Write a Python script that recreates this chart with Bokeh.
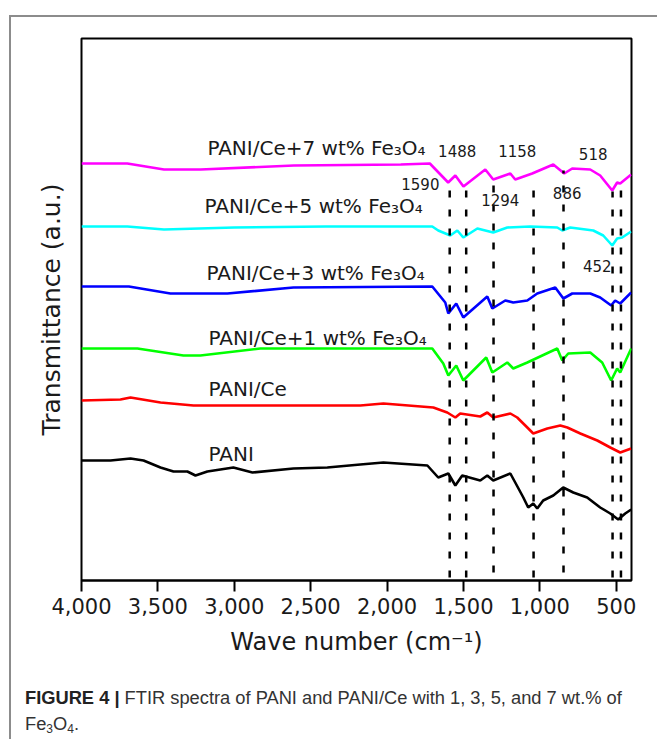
from bokeh.plotting import figure
from bokeh.layouts import column
from bokeh.models import Range1d, FixedTicker, NumeralTickFormatter, LinearAxis, Div
from bokeh.core.properties import value
from bokeh.embed import file_html
from bokeh.resources import INLINE

# ---------------- data (wave number cm^-1, transmittance a.u.) ----------------
pani_wn = [4000, 3810, 3679, 3594, 3483, 3398, 3307, 3254, 3176, 3006, 2881, 2613, 2391,
           2175, 2024, 1736, 1665, 1599, 1553, 1508, 1390, 1344, 1305, 1193, 1161, 1108,
           1076, 1043, 1017, 978, 912, 847, 781, 690, 605, 539, 487, 441, 402]
pani_t = [120, 120, 122, 120, 113, 109, 109, 105, 109, 113, 108, 112, 113,
          116, 118, 115, 103, 107, 95, 105, 100, 105, 100, 107, 98, 83,
          73, 77, 72, 80, 85, 93, 88, 83, 73, 67, 61, 67, 71]

ce_wn = [4000, 3745, 3679, 3483, 3267, 2894, 2175, 2024, 1697, 1606, 1553, 1521, 1390,
         1344, 1305, 1193, 1148, 1082, 1043, 951, 866, 820, 735, 624, 539, 474, 402]
ce_t = [180, 181, 183, 178, 175, 175, 175, 177, 173, 168, 163, 167, 164,
        168, 163, 167, 163, 153, 147, 152, 155, 153, 147, 140, 133, 128, 132]

fe1_wn = [4000, 3634, 3333, 3222, 2829, 1704, 1632, 1599, 1547, 1501, 1351, 1311, 1213,
          1174, 1082, 886, 853, 814, 670, 592, 533, 494, 474, 402]
fe1_t = [232, 232, 225, 225, 232, 232, 217, 205, 215, 200, 223, 208, 218,
         212, 218, 232, 220, 227, 228, 218, 200, 212, 208, 232]

fe3_wn = [4000, 3690, 3418, 3176, 3045, 2613, 1704, 1619, 1599, 1547, 1501, 1344, 1311,
          1226, 1174, 1082, 1017, 899, 846, 788, 670, 605, 533, 507, 474, 402]
fe3_t = [294, 294, 287, 287, 287, 293, 294, 278, 267, 277, 263, 284, 272,
         280, 278, 280, 287, 293, 282, 287, 287, 283, 275, 280, 277, 288]

fe5_wn = [4000, 3700, 3460, 3000, 2400, 1704, 1665, 1586, 1540, 1501, 1409, 1305, 1213,
          1063, 886, 853, 801, 650, 585, 526, 494, 461, 402]
fe5_t = [354, 354, 351, 353, 354, 354, 350, 345, 350, 343, 352, 348, 353,
         354, 353, 350, 353, 350, 345, 335, 342, 343, 349]

fe7_wn = [4000, 3700, 3460, 3220, 2610, 1910, 1720, 1600, 1553, 1500, 1357, 1305, 1193,
          1161, 1050, 912, 840, 788, 670, 605, 526, 494, 474, 402]
fe7_t = [417, 417, 411, 411, 415, 416, 417, 398, 405, 394, 411, 401, 407,
         401, 407, 416, 407, 412, 411, 405, 390, 398, 397, 406]

series_names = ["PANI", "PANI/Ce", "PANI/Ce+1 wt% Fe\u2083O\u2084", "PANI/Ce+3 wt% Fe\u2083O\u2084",
                "PANI/Ce+5 wt% Fe\u2083O\u2084", "PANI/Ce+7 wt% Fe\u2083O\u2084"]
series_colors = ["#000000", "#ff0000", "#00ff00", "#0000ff", "#00ffff", "#ff00ff"]
series_wn = [pani_wn, ce_wn, fe1_wn, fe3_wn, fe5_wn, fe7_wn]
series_t = [pani_t, ce_t, fe1_t, fe3_t, fe5_t, fe7_t]
name_wn = [3169, 3169, 3169, 3182, 3195, 3176]
name_t = [127, 192, 243, 308, 375, 433]

# marked bands (dashed guide lines) and their labels
band_wn = [1590, 1482, 1303, 1041, 845, 524, 469]
band_top = [398, 398, 403, 401, 410, 389, 398]
band_bottom = [3, 3, 8, 3, 8, 3, 3]
peak_labels = ["1488", "1158", "518", "1590", "1294", "886", "452"]
peak_label_wn = [1541, 1148, 651, 1782, 1259, 821, 624]
peak_label_t = [430, 430, 427, 397, 381, 388, 315]

x_ticks = [4000, 3500, 3000, 2500, 2000, 1500, 1000, 500]

caption_bold = "FIGURE 4 |"
caption_text = "FTIR spectra of PANI and PANI/Ce with 1, 3, 5, and 7 wt.% of"

FONT = "DejaVu Sans"
TXT = "#1a1a1a"

p = figure(width=646, height=653, x_range=Range1d(4000, 400), y_range=Range1d(0, 542),
           output_backend="svg", toolbar_location=None, y_axis_location=None,
           min_border_left=70, min_border_right=26, min_border_top=21, min_border_bottom=90)
p.grid.visible = False
p.outline_line_color = "black"
p.outline_line_width = 2
p.background_fill_color = "white"
p.border_fill_color = "white"

ax = p.xaxis[0]
ax.ticker = FixedTicker(ticks=x_ticks)
ax.formatter = NumeralTickFormatter(format="0,0")
ax.major_label_text_font = FONT
ax.major_label_text_font_size = "21px"
ax.major_label_text_color = TXT
ax.major_label_standoff = 6
ax.major_tick_out = 11
ax.major_tick_in = 0
ax.minor_tick_out = 0
ax.minor_tick_in = 0
ax.axis_line_width = 2
ax.major_tick_line_width = 2
ax.axis_label = "Wave number (cm\u207b\u00b9)"
ax.axis_label_text_font = FONT
ax.axis_label_text_font_size = "24px"
ax.axis_label_text_font_style = "normal"
ax.axis_label_text_color = TXT
ax.axis_label_standoff = 11

yax = LinearAxis(ticker=FixedTicker(ticks=[]), axis_line_color=None,
                 major_tick_out=0, major_tick_in=0, minor_tick_out=0, minor_tick_in=0,
                 major_label_standoff=0, axis_label="Transmittance (a.u.)",
                 axis_label_text_font=FONT, axis_label_text_font_size="25px",
                 axis_label_text_font_style="normal", axis_label_text_color=TXT,
                 axis_label_standoff=16)
p.add_layout(yax, "left")

for wn, t, c in zip(series_wn, series_t, series_colors):
    p.line(wn, t, line_color=c, line_width=2.6)

p.text(x=name_wn, y=name_t, text=series_names, text_font=value(FONT),
       text_font_size=value("20px"), text_color=TXT, text_align="left",
       text_baseline="middle")

p.segment(x0=band_wn, y0=band_bottom, x1=band_wn, y1=band_top, line_color="black",
          line_width=2.5, line_dash="7 12")

p.text(x=peak_label_wn, y=peak_label_t, text=peak_labels, text_font=value(FONT),
       text_font_size=value("15px"), text_color=TXT, text_align="center",
       text_baseline="middle")

# caption
sub = "font-size:12px;vertical-align:-3px;line-height:0"
cap_html = (
    '<div style="padding:15px 0 0 14px;margin:0;line-height:26px;'
    'font-family:\'Liberation Sans\',Arial,sans-serif;font-size:18.3px;color:#333333;'
    'white-space:nowrap">'
    f'<b style="color:#222222">{caption_bold}</b> {caption_text}<br>'
    f'Fe<span style="{sub}">3</span>O<span style="{sub}">4</span>.'
    '</div>'
)
cap = Div(text=cap_html, width=646, height=69, margin=0)

layout = column(p, cap, margin=(15, 0, 0, 9),
                styles={"border-left": "2px solid #8c8c8c", "border-top": "2px solid #8c8c8c"})

open("out.html", "w").write(file_html(layout, INLINE))
